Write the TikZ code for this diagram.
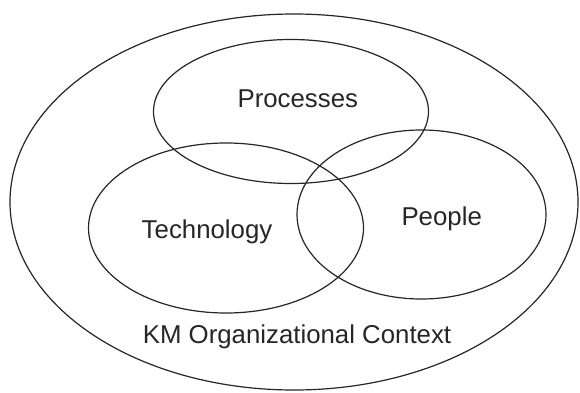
\documentclass[tikz,border=0pt]{standalone}
\usepackage{fontspec}
\setmainfont{Liberation Sans}
\usetikzlibrary{shapes.geometric}
\begin{document}
\begin{tikzpicture}[x=1pt,y=1pt,
  ring/.style={draw=black!85, line width=1.2pt, ellipse, inner sep=0pt, fill=none},
  lbl/.style={font=\fontsize{25.8}{30}\selectfont, text=black!85, anchor=base, inner sep=0pt}]
\useasboundingbox[fill=white] (0,0) rectangle (580,392);
\node[ring, minimum width=568pt, minimum height=376pt] (outer) at (294,190) {};
\node[ring, minimum width=275pt, minimum height=144pt] (proc) at (291,280.5) {};
\node[ring, minimum width=275pt, minimum height=170pt] (tech) at (226,164) {};
\node[ring, minimum width=249pt, minimum height=169pt] (people) at (421.5,177.5) {};
\node[lbl] (tproc) at (297.8,284.7) {Processes};
\node[lbl] (ttech) at (207,153.7) {Technology};
\node[lbl] (tpeople) at (441.7,167) {People};
\node[lbl] (tkm) at (297,49) {KM Organizational Context};
\end{tikzpicture}
\end{document}
